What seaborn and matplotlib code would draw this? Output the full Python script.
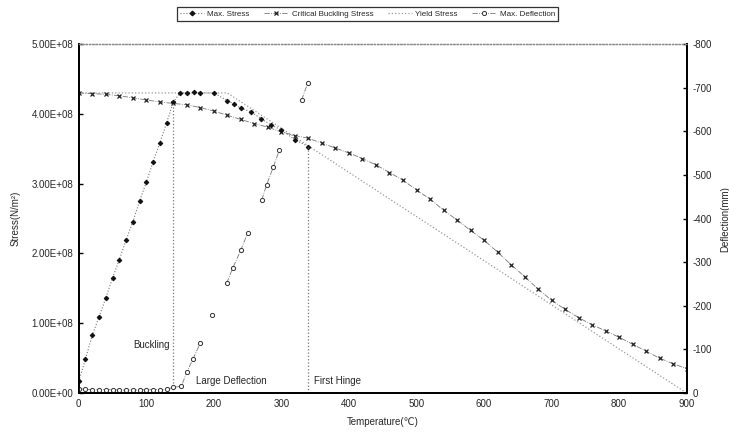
import numpy as np
import pandas as pd
import matplotlib
matplotlib.use("Agg")
import matplotlib.pyplot as plt
from matplotlib.lines import Line2D
from matplotlib.ticker import FuncFormatter
import seaborn as sns

sns.set_style("white")
plt.rcParams['font.family'] = ['Liberation Sans', 'DejaVu Sans']
plt.rcParams['axes.unicode_minus'] = False

# max stress (N/m2)
ms_temp = [0, 10, 20, 30, 40, 50, 60, 70, 80, 90, 100, 110, 120, 130, 140,
           150, 160, 170, 180, 200, 220, 230, 240, 255, 270, 285, 300, 320, 340]
ms_stress = [0.17, 0.49, 0.83, 1.09, 1.36, 1.65, 1.91, 2.19, 2.45, 2.75, 3.02, 3.31, 3.58, 3.87, 4.17,
             4.30, 4.30, 4.31, 4.30, 4.30, 4.19, 4.14, 4.08, 4.03, 3.93, 3.84, 3.77, 3.63, 3.53]

# critical buckling stress
cb_temp = list(range(0, 901, 20))
cb_stress = [4.30, 4.29, 4.28, 4.26, 4.23, 4.20, 4.17, 4.15, 4.13, 4.09, 4.04, 3.98, 3.92, 3.86,
             3.81, 3.74, 3.69, 3.65, 3.58, 3.51, 3.44, 3.36, 3.27, 3.16, 3.05, 2.91, 2.78, 2.62,
             2.48, 2.33, 2.19, 2.02, 1.84, 1.67, 1.49, 1.33, 1.20, 1.08, 0.98, 0.89, 0.80, 0.70,
             0.60, 0.50, 0.42, 0.35]

# yield stress
ys_temp = [0, 220, 900]
ys_stress = [4.30, 4.30, 0.0]

# max deflection (mm), drawn in separate pieces
df_temp = [0, 10, 20, 30, 40, 50, 60, 70, 80, 90, 100, 110, 120, 130, 140,
           152, 160, 169, 180, 198, 219, 228, 240, 250, 271, 278, 288, 297, 330, 339]
df_defl = [-10, -9, -8, -8, -8, -8, -7, -7, -7, -7, -8, -8, -8, -9, -13,
           -16, -48, -78, -115, -179, -252, -287, -328, -367, -443, -477, -518, -557, -672, -711]
df_piece = [0] * 19 + [1] + [2] * 4 + [3] * 4 + [4] * 2

buckling_temp = 140
hinge_temp = 340

ms = pd.DataFrame({"T": ms_temp, "S": np.array(ms_stress) * 1e8})
cb = pd.DataFrame({"T": cb_temp, "S": np.array(cb_stress) * 1e8})
ys = pd.DataFrame({"T": ys_temp, "S": np.array(ys_stress) * 1e8})
dfl = pd.DataFrame({"T": df_temp, "D": df_defl, "piece": df_piece})

fig = plt.figure(figsize=(7.29, 4.32), dpi=100)
ax = fig.add_axes([0.108, 0.090, 0.834, 0.808])

line_c = "#777777"
sns.lineplot(data=ys, x="T", y="S", ax=ax, color="#999999", linestyle=":", linewidth=0.9,
             estimator=None, sort=False, legend=False)
sns.lineplot(data=cb, x="T", y="S", ax=ax, color=line_c, linestyle="-.", linewidth=0.6,
             marker="x", markersize=2.4, markeredgewidth=0.9, markeredgecolor="#222222",
             estimator=None, sort=False, legend=False)
sns.lineplot(data=ms, x="T", y="S", ax=ax, color=line_c, linestyle=":", linewidth=0.8,
             marker="D", markersize=2.3, markerfacecolor="#111111", markeredgecolor="#111111",
             estimator=None, sort=False, legend=False)

# event lines
b_stress = ms.loc[ms["T"] == buckling_temp, "S"].iloc[0]
h_stress = ms.loc[ms["T"] == hinge_temp, "S"].iloc[0]
ax.vlines([buckling_temp, hinge_temp], 0, [b_stress, h_stress], colors="#777777",
          linestyles=":", linewidth=0.9)
ax.text(buckling_temp - 5, 0.69e8, "Buckling", fontsize=7, ha="right", va="center")
ax.text(buckling_temp + 33, 0.17e8, "Large Deflection", fontsize=7, ha="left", va="center")
ax.text(hinge_temp + 8, 0.17e8, "First Hinge", fontsize=7, ha="left", va="center")

ax.set_xlim(0, 900)
ax.set_ylim(0, 5e8)
ax.set_xticks(range(0, 901, 100))
ax.set_yticks(np.arange(0, 5.01e8, 1e8))
ax.yaxis.set_major_formatter(FuncFormatter(lambda v, p: f"{v:.2E}"))
ax.set_xlabel("Temperature(℃)", fontsize=7, labelpad=6)
ax.set_ylabel("Stress(N/m²)", fontsize=7, labelpad=8)
ax.tick_params(axis="both", labelsize=7, length=3, width=1, direction="in", color="black", pad=4)

ax2 = ax.twinx()
sns.lineplot(data=dfl, x="T", y="D", units="piece", estimator=None, ax=ax2, color=line_c,
             linestyle="-.", linewidth=0.6, marker="o", markersize=3, markerfacecolor="white",
             markeredgecolor="#333333", markeredgewidth=0.7, sort=False, legend=False)
ax2.set_ylim(0, -800)
ax2.set_yticks(range(0, -801, -100))
ax2.set_ylabel("Deflection(mm)", fontsize=7, labelpad=6)
ax2.tick_params(axis="y", labelsize=7, length=3, width=1, direction="in", color="black", pad=4)

for a in (ax, ax2):
    a.spines["top"].set_linestyle(":")
    a.spines["top"].set_color("#888888")
    a.spines["top"].set_linewidth(0.9)
    for s in ("left", "right", "bottom"):
        a.spines[s].set_color("black")
        a.spines[s].set_linewidth(1.3)

handles = [
    Line2D([], [], color=line_c, linestyle=":", linewidth=0.8, marker="D", markersize=2.3,
           markerfacecolor="#111111", markeredgecolor="#111111"),
    Line2D([], [], color=line_c, linestyle="-.", linewidth=0.6, marker="x", markersize=2.4,
           markeredgewidth=0.9, markeredgecolor="#222222"),
    Line2D([], [], color="#999999", linestyle=":", linewidth=0.9),
    Line2D([], [], color=line_c, linestyle="-.", linewidth=0.6, marker="o", markersize=3,
           markerfacecolor="white", markeredgecolor="#333333", markeredgewidth=0.7),
]
labels = ["Max. Stress", "Critical Buckling Stress", "Yield Stress", "Max. Deflection"]
leg = fig.legend(handles, labels, loc="center", bbox_to_anchor=(0.504, 0.968), ncol=4,
                 fontsize=5.8, frameon=True, fancybox=False, handlelength=3.0,
                 columnspacing=1.8, handletextpad=0.4, borderpad=0.4)
leg.get_frame().set_edgecolor("black")
leg.get_frame().set_linewidth(0.9)

fig.savefig("out.png", dpi=100)
